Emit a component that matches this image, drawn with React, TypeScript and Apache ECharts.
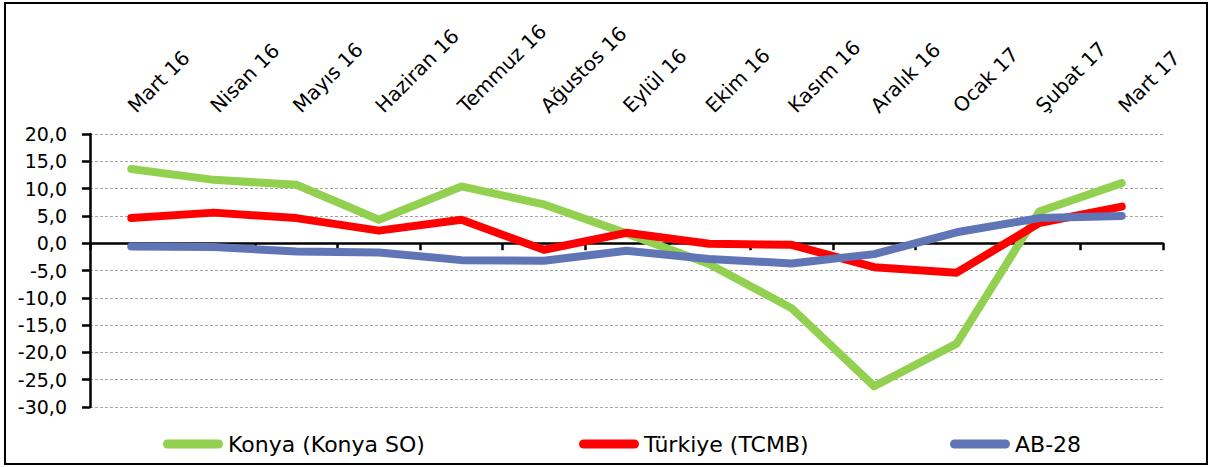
import React, { useEffect, useRef } from "react";
import * as echarts from "echarts";

const categories = [
  "Mart 16", "Nisan 16", "Mayıs 16", "Haziran 16", "Temmuz 16", "Ağustos 16",
  "Eylül 16", "Ekim 16", "Kasım 16", "Aralık 16", "Ocak 17", "Şubat 17", "Mart 17",
];
const konya = [13.6, 11.6, 10.7, 4.3, 10.4, 7.1, 1.8, -3.8, -11.9, -26.2, -18.4, 5.8, 11.0];
const turkiye = [4.6, 5.6, 4.6, 2.3, 4.3, -1.2, 1.9, -0.1, -0.3, -4.4, -5.4, 3.7, 6.7];
const ab28 = [-0.6, -0.7, -1.5, -1.7, -3.1, -3.2, -1.4, -2.9, -3.7, -2.0, 2.0, 4.6, 5.0];

const seriesNames = ["Konya (Konya SO)", "Türkiye (TCMB)", "AB-28"];
const colors = ["#92D050", "#FF0000", "#5F75B5"];
const legendLefts = [158, 574, 945];

const FONT = "DejaVu Sans";

export default function App() {
  const ref = useRef<HTMLDivElement>(null);
  useEffect(() => {
    if (!ref.current) return;
    const chart = echarts.init(ref.current, null, { renderer: "svg" });
    const values = [konya, turkiye, ab28];
    const iconPath = "path://M4.5,0 H55.5 A4.5,4.5 0 0 1 55.5,9 H4.5 A4.5,4.5 0 0 1 4.5,0 Z";
    chart.setOption({
      animation: false,
      backgroundColor: "#ffffff",
      grid: { left: 90, right: 47, top: 134, bottom: 60, containLabel: false },
      legend: seriesNames.map((n, i) => ({
        data: [n],
        left: legendLefts[i],
        top: 427,
        itemWidth: 60,
        itemHeight: 9,
        icon: iconPath,
        textStyle: { fontFamily: FONT, fontSize: 22, color: "#000", lineHeight: 24 },
      })),
      xAxis: [
        {
          type: "category",
          data: categories,
          position: "bottom",
          boundaryGap: true,
          axisLine: { show: true, onZero: true, lineStyle: { color: "#000", width: 2.5 } },
          axisTick: { show: true, length: 7, lineStyle: { color: "#000", width: 2.5 } },
          axisLabel: { show: false },
          splitLine: { show: false },
        },
        {
          type: "category",
          data: categories,
          position: "top",
          boundaryGap: true,
          axisLine: { show: false, onZero: false },
          axisTick: { show: false },
          axisLabel: {
            show: true,
            interval: 0,
            rotate: -45,
            margin: 25,
            fontFamily: FONT,
            fontSize: 20,
            color: "#000",
          },
          splitLine: { show: false },
        },
      ],
      yAxis: {
        type: "value",
        min: -30,
        max: 20,
        interval: 5,
        axisLine: { show: true, lineStyle: { color: "#000", width: 2.5 } },
        axisTick: { show: true, inside: false, length: 8, lineStyle: { color: "#000", width: 2.5 } },
        axisLabel: {
          margin: 23,
          fontFamily: FONT,
          fontSize: 19,
          color: "#000",
          formatter: (v: number) => v.toFixed(1).replace(".", ","),
        },
        splitLine: { show: true, lineStyle: { color: "#A6A6A6", width: 1, type: [3, 2] } },
      },
      series: seriesNames.map((n, i) => ({
        name: n,
        type: "line",
        xAxisIndex: 0,
        data: values[i],
        symbol: "none",
        showSymbol: false,
        smooth: false,
        lineStyle: { color: colors[i], width: 8, cap: "round", join: "round" },
        itemStyle: { color: colors[i] },
        z: 2 + i,
      })),
      graphic: [
        {
          type: "rect",
          shape: { x: 5, y: 3, width: 1202, height: 461 },
          style: { fill: "none", stroke: "#000", lineWidth: 2 },
          silent: true,
          z: 100,
        },
      ],
    });
    return () => chart.dispose();
  }, []);
  return (
    <div
      ref={ref}
      style={{ position: "absolute", left: 0, top: 0, width: 1210, height: 467 }}
    />
  );
}
